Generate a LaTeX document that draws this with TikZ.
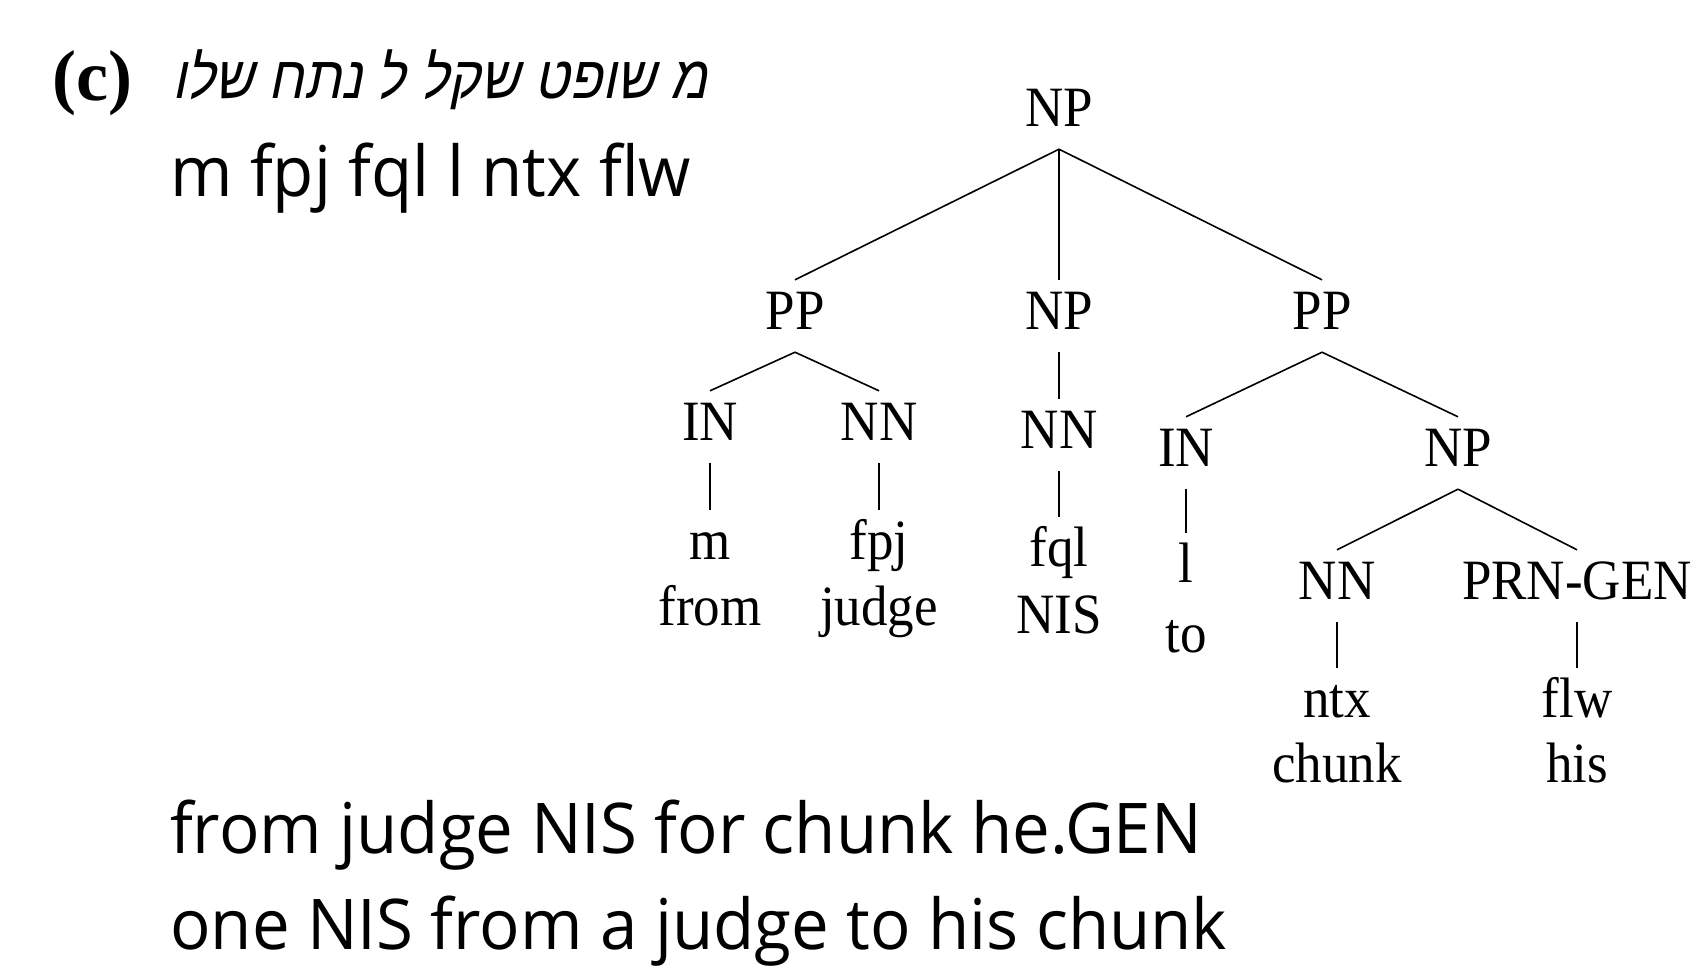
\documentclass[tikz,border=0pt]{standalone}
\usepackage{fontspec}
\setmainfont{Liberation Serif}
\newfontfamily\treefont[FakeStretch=0.93]{Liberation Serif}
\newfontfamily\labfont{Liberation Serif}
\newfontfamily\glossfont[FakeStretch=0.96]{Open Sans}
\newfontfamily\hebfont[Script=Hebrew,FakeSlant=0.2,FakeStretch=0.895]{Liberation Sans}
\TeXXeTstate=1
\begin{document}
\begin{tikzpicture}[x=1pt,y=-1pt,
  cat/.style={font=\treefont\fontsize{57}{60}\selectfont, text height=38pt, text depth=12pt, inner xsep=0pt, inner ysep=11pt, anchor=base},
  gl/.style={font=\treefont\fontsize{57}{60}\selectfont, anchor=base, inner sep=0pt},
  sans/.style={font=\glossfont\fontsize{70}{80}\selectfont, anchor=base west, inner sep=0pt},
  edge/.style={line width=1.6pt}]
\useasboundingbox (0,0) rectangle (1691,966);
% header
\node[font=\labfont\bfseries\fontsize{72}{76}\selectfont, anchor=base west, inner sep=0pt] (lab) at (52,100) {(c)};
\node[font=\hebfont\fontsize{60}{64}\selectfont, anchor=base west, inner sep=0pt] (heb) at (172,98) {\beginR מ שופט שקל ל נתח שלו\endR};
\node[sans] (translit) at (170,196) {m fpj fql l ntx flw};
\node[sans] (gloss) at (170,853) {from judge NIS for chunk he.GEN};
\node[sans] (trans) at (170,949) {one NIS from a judge to his chunk};
% tree
\node[cat] (np0) at (1059,126) {NP};
\node[cat] (ppl) at (795,329) {PP};
\node[cat] (npm) at (1059,329) {NP};
\node[cat] (ppr) at (1322,329) {PP};
\node[cat] (inl) at (710,440) {IN};
\node[cat] (nnl) at (879,440) {NN};
\node[cat] (nnm) at (1059,448) {NN};
\node[cat] (inr) at (1186,466) {IN};
\node[cat] (npr) at (1458,466) {NP};
\node[cat] (nnb) at (1337,599) {NN};
\node[cat] (prn) at (1577,599) {PRN-GEN};
\node[cat] (wm) at (710,559) {m};
\node[cat] (wfpj) at (879,559) {fpj};
\node[cat] (wfql) at (1059,566) {fql};
\node[cat] (wl) at (1186,582) {l};
\node[cat] (wntx) at (1337,717) {ntx};
\node[cat] (wflw) at (1577,717) {flw};
\node[gl] (gfrom) at (710,625) {from};
\node[gl] (gjudge) at (879,625) {judge};
\node[gl] (gnis) at (1059,633) {NIS};
\node[gl] (gto) at (1186,652) {to};
\node[gl] (gchunk) at (1337,782) {chunk};
\node[gl] (ghis) at (1577,782) {his};
% edges
\draw[edge] (np0.south) -- (ppl.north);
\draw[edge] (np0.south) -- (npm.north);
\draw[edge] (np0.south) -- (ppr.north);
\draw[edge] (ppl.south) -- (inl.north);
\draw[edge] (ppl.south) -- (nnl.north);
\draw[edge] (npm.south) -- (nnm.north);
\draw[edge] (ppr.south) -- (inr.north);
\draw[edge] (ppr.south) -- (npr.north);
\draw[edge] (npr.south) -- (nnb.north);
\draw[edge] (npr.south) -- (prn.north);
\draw[edge] (inl.south) -- (wm.north);
\draw[edge] (nnl.south) -- (wfpj.north);
\draw[edge] (nnm.south) -- (wfql.north);
\draw[edge] (inr.south) -- (wl.north);
\draw[edge] (nnb.south) -- (wntx.north);
\draw[edge] (prn.south) -- (wflw.north);
\end{tikzpicture}
\end{document}
